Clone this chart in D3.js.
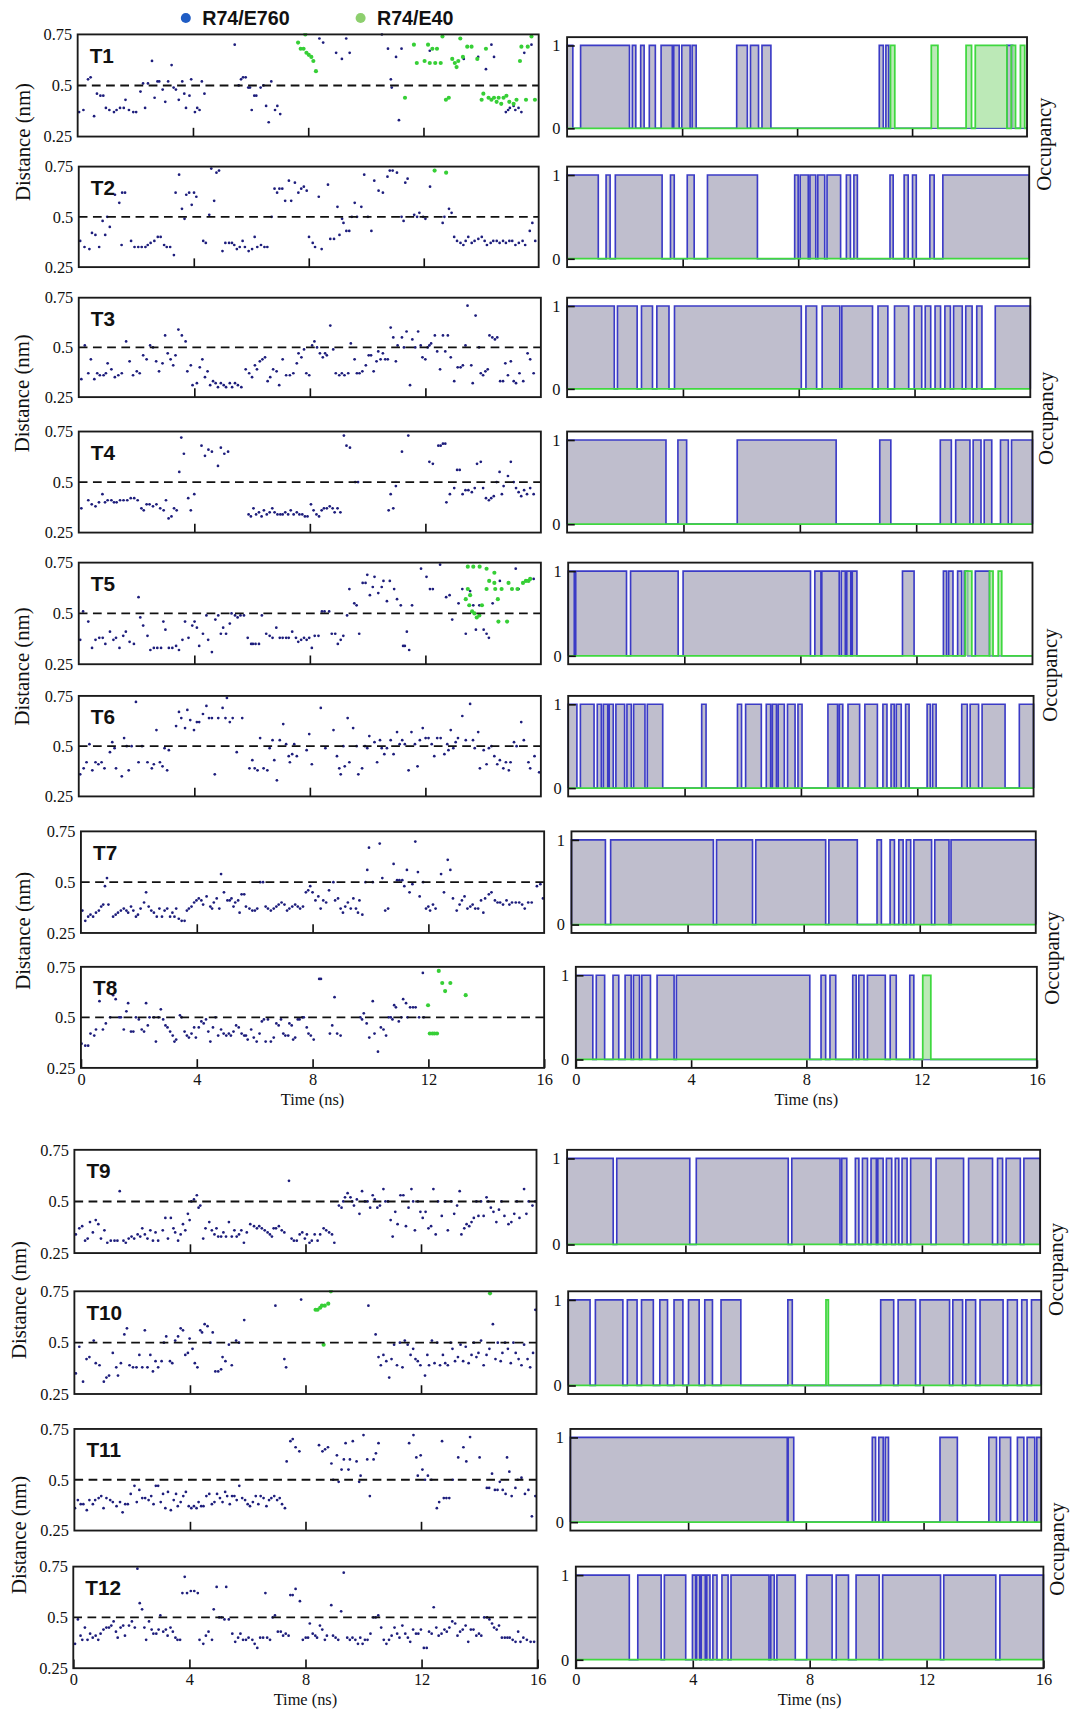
<!DOCTYPE html>
<html>
<head>
<meta charset="utf-8">
<script src="https://cdn.jsdelivr.net/npm/d3@7"></script>
<style>
  body { margin: 0; background: #fff; }
  text { fill: #111; }
</style>
</head>
<body>
<svg id="chart"></svg>
<script>
// ---- axes / labels ----
var timeTicks = [0, 4, 8, 12, 16];
var distTicks = [0.25, 0.5, 0.75];
var occTicks = [0, 1];
var cutoff = 0.5;
var trajNames = ['T1','T2','T3','T4','T5','T6','T7','T8','T9','T10','T11','T12'];
var seriesNames = ['R74/E760', 'R74/E40'];

// ---- distance samples [time ns, distance nm] ----
var T1_E760 = [[.05,.37],[.2,.38],[.36,.53],[.45,.54],[.57,.35],[.67,.46],[.79,.45],[.89,.45],[.98,.39],[1.1,.38],[1.26,.37],[1.35,.38],[1.47,.39],[1.6,.39],[1.66,.43],[1.78,.38],[1.93,.37],[2.03,.37],[2.18,.47],[2.27,.51],[2.34,.39],[2.44,.51],[2.58,.62],[2.67,.44],[2.77,.52],[2.83,.52],[2.95,.48],[3.04,.42],[3.14,.52],[3.26,.6],[3.33,.49],[3.41,.48],[3.51,.43],[3.63,.52],[3.7,.46],[3.76,.39],[3.88,.45],[3.94,.53],[4.07,.37],[4.15,.39],[4.23,.38],[4.31,.52],[4.4,.46],[5.45,.7],[5.59,.5],[5.67,.53],[5.74,.54],[5.83,.54],[5.92,.49],[5.98,.49],[6.04,.38],[6.13,.45],[6.2,.45],[6.35,.49],[6.45,.5],[6.54,.4],[6.63,.32],[6.72,.52],[6.85,.38],[6.93,.4],[7.03,.36],[8.39,.73],[8.52,.71],[8.97,.66],[9.17,.63],[9.32,.73],[9.44,.66],[10.56,.75],[10.77,.68],[10.87,.53],[10.9,.49],[11.05,.64],[11.15,.33],[11.24,.68],[12.22,.67],[13.4,.63],[13.9,.64],[14.17,.58],[14.36,.7],[14.45,.64],[14.86,.37],[14.94,.38],[15.0,.39],[15.13,.4],[15.19,.38],[15.3,.39],[15.4,.37],[15.5,.66],[15.75,.7]];
var T1_E40 = [[7.65,.71],[7.74,.68],[7.84,.68],[7.9,.75],[7.94,.66],[8.02,.65],[8.11,.64],[8.18,.62],[8.27,.57],[11.36,.44],[11.67,.7],[11.77,.61],[12.04,.62],[12.16,.7],[12.22,.61],[12.31,.68],[12.41,.61],[12.47,.68],[12.6,.61],[12.66,.74],[12.78,.43],[12.88,.44],[13.0,.63],[13.09,.61],[13.15,.59],[13.21,.62],[13.28,.73],[13.37,.64],[13.52,.69],[13.67,.69],[13.87,.63],[14.02,.43],[14.08,.46],[14.17,.68],[14.26,.44],[14.36,.43],[14.45,.44],[14.54,.42],[14.61,.44],[14.7,.41],[14.78,.44],[14.88,.45],[14.98,.42],[15.13,.41],[15.23,.43],[15.35,.62],[15.4,.69],[15.56,.43],[15.62,.69],[15.75,.74],[15.87,.43]];

var T2_E760 = [[.05,.38],[.2,.35],[.37,.34],[.46,.42],[.58,.41],[.71,.35],[.83,.48],[.92,.41],[.99,.5],[1.08,.45],[1.26,.61],[1.41,.57],[1.49,.36],[1.51,.62],[1.61,.62],[1.82,.38],[1.94,.35],[2.07,.35],[2.19,.35],[2.32,.35],[2.4,.36],[2.5,.37],[2.63,.38],[2.75,.4],[2.85,.4],[2.97,.36],[3.06,.35],[3.18,.35],[3.31,.31],[3.37,.62],[3.49,.71],[3.59,.54],[3.68,.49],[3.74,.61],[3.84,.62],[3.93,.56],[4.01,.62],[4.09,.6],[4.33,.38],[4.42,.37],[4.54,.51],[4.61,.74],[4.71,.58],[4.79,.72],[4.88,.73],[5.0,.33],[5.1,.37],[5.23,.37],[5.33,.37],[5.41,.36],[5.5,.34],[5.6,.35],[5.7,.38],[5.78,.35],[5.91,.33],[6.03,.34],[6.12,.4],[6.21,.35],[6.34,.36],[6.46,.35],[6.56,.35],[6.71,.5],[6.81,.64],[6.9,.62],[6.98,.64],[7.08,.64],[7.18,.58],[7.31,.68],[7.39,.58],[7.52,.67],[7.64,.62],[7.74,.64],[7.83,.65],[7.93,.63],[8.01,.4],[8.14,.37],[8.22,.35],[8.35,.6],[8.45,.34],[8.67,.66],[8.75,.39],[8.88,.39],[9.0,.55],[9.07,.41],[9.16,.49],[9.21,.47],[9.31,.43],[9.41,.43],[9.5,.5],[9.6,.57],[9.68,.5],[9.83,.55],[9.93,.71],[10.06,.5],[10.18,.43],[10.28,.68],[10.43,.63],[10.58,.62],[10.74,.7],[10.82,.73],[10.92,.73],[11.07,.72],[11.23,.5],[11.3,.48],[11.36,.67],[11.44,.69],[11.67,.51],[11.77,.5],[11.85,.52],[11.98,.5],[12.06,.49],[12.22,.65],[12.66,.47],[12.72,.5],[12.88,.54],[12.97,.52],[13.06,.4],[13.16,.38],[13.28,.37],[13.38,.36],[13.46,.38],[13.55,.4],[13.67,.37],[13.77,.38],[13.9,.39],[14.02,.4],[14.12,.38],[14.2,.36],[14.33,.37],[14.42,.38],[14.54,.38],[14.64,.37],[14.76,.38],[14.86,.37],[14.98,.38],[15.08,.38],[15.19,.36],[15.31,.37],[15.44,.38],[15.53,.36],[15.69,.43],[15.78,.47],[15.88,.38]];
var T2_E40 = [[12.38,.73],[12.78,.72]];

var T3_E760 = [[.09,.34],[.21,.51],[.33,.37],[.42,.44],[.54,.34],[.64,.37],[.73,.36],[.86,.36],[.94,.37],[1.0,.42],[1.13,.39],[1.25,.35],[1.37,.36],[1.49,.37],[1.64,.53],[1.76,.43],[1.88,.36],[2.01,.38],[2.11,.37],[2.23,.46],[2.35,.44],[2.47,.51],[2.57,.5],[2.68,.43],[2.78,.38],[2.9,.42],[2.99,.56],[3.08,.47],[3.18,.44],[3.27,.41],[3.35,.46],[3.45,.59],[3.57,.56],[3.7,.53],[3.76,.38],[3.88,.41],[3.94,.31],[4.09,.32],[4.19,.4],[4.28,.44],[4.37,.35],[4.46,.38],[4.55,.31],[4.65,.33],[4.74,.32],[4.82,.3],[4.92,.32],[5.02,.31],[5.1,.3],[5.23,.32],[5.31,.3],[5.41,.32],[5.51,.31],[5.63,.3],[5.78,.39],[5.9,.37],[6.0,.35],[6.1,.41],[6.17,.39],[6.27,.43],[6.36,.44],[6.45,.45],[6.54,.33],[6.63,.35],[6.73,.39],[6.85,.38],[6.94,.31],[7.06,.44],[7.18,.36],[7.31,.36],[7.43,.37],[7.55,.42],[7.61,.47],[7.71,.45],[7.8,.49],[7.88,.37],[7.98,.36],[8.08,.51],[8.16,.53],[8.25,.5],[8.35,.47],[8.45,.45],[8.53,.47],[8.59,.46],[8.71,.61],[8.81,.49],[8.9,.37],[9.02,.36],[9.11,.37],[9.2,.36],[9.33,.37],[9.42,.52],[9.55,.44],[9.63,.37],[9.72,.37],[9.82,.38],[9.94,.41],[10.04,.46],[10.12,.46],[10.21,.38],[10.31,.43],[10.37,.48],[10.45,.44],[10.53,.47],[10.61,.44],[10.7,.44],[10.8,.6],[10.89,.55],[10.98,.43],[11.04,.51],[11.19,.55],[11.26,.5],[11.35,.58],[11.47,.31],[11.55,.54],[11.65,.5],[11.75,.58],[11.84,.51],[11.9,.45],[12.0,.44],[12.08,.5],[12.14,.51],[12.2,.52],[12.33,.56],[12.41,.48],[12.51,.39],[12.61,.56],[12.69,.48],[12.78,.56],[12.88,.45],[13.0,.33],[13.12,.4],[13.22,.4],[13.3,.41],[13.39,.51],[13.46,.71],[13.59,.41],[13.64,.32],[13.74,.66],[13.86,.5],[13.92,.37],[14.0,.36],[14.08,.38],[14.16,.39],[14.22,.56],[14.32,.55],[14.41,.54],[14.49,.55],[14.59,.33],[14.69,.33],[14.77,.42],[14.86,.36],[14.96,.43],[15.06,.33],[15.14,.32],[15.26,.37],[15.39,.33],[15.54,.47],[15.63,.44],[15.75,.37]];
var T3_E40 = [];

var T4_E760 = [[.09,.37],[.33,.41],[.45,.39],[.58,.38],[.7,.4],[.82,.44],[.91,.4],[1.0,.41],[1.13,.41],[1.22,.4],[1.31,.4],[1.43,.41],[1.55,.41],[1.68,.41],[1.8,.42],[1.92,.42],[2.04,.41],[2.17,.37],[2.25,.36],[2.35,.39],[2.45,.39],[2.57,.38],[2.69,.39],[2.82,.37],[2.94,.36],[3.02,.41],[3.11,.32],[3.21,.33],[3.3,.37],[3.39,.36],[3.48,.55],[3.55,.72],[3.64,.64],[3.79,.42],[3.88,.36],[4.0,.44],[4.25,.68],[4.37,.63],[4.49,.66],[4.61,.65],[4.82,.58],[4.92,.67],[5.04,.64],[5.17,.65],[5.88,.34],[5.96,.33],[6.05,.37],[6.14,.34],[6.24,.35],[6.33,.33],[6.41,.36],[6.51,.34],[6.61,.35],[6.7,.37],[6.78,.35],[6.88,.34],[6.98,.34],[7.06,.34],[7.15,.35],[7.25,.34],[7.34,.36],[7.44,.34],[7.55,.35],[7.64,.34],[7.74,.34],[7.83,.33],[7.92,.33],[8.04,.39],[8.13,.36],[8.23,.34],[8.32,.33],[8.41,.36],[8.49,.37],[8.59,.37],[8.69,.38],[8.79,.37],[8.86,.35],[8.96,.37],[9.06,.35],[9.18,.73],[9.27,.68],[9.39,.67],[9.57,.5],[9.67,.5],[10.73,.36],[10.8,.44],[10.89,.37],[10.98,.48],[11.19,.65],[11.41,.73],[12.14,.6],[12.26,.59],[12.45,.68],[12.53,.68],[12.61,.69],[12.69,.69],[12.73,.4],[12.85,.44],[13.0,.47],[13.1,.56],[13.19,.56],[13.29,.44],[13.39,.46],[13.49,.46],[13.61,.45],[13.71,.47],[13.79,.59],[13.92,.6],[14.0,.47],[14.1,.42],[14.2,.41],[14.28,.42],[14.37,.43],[14.47,.5],[14.57,.55],[14.65,.44],[14.71,.48],[14.86,.53],[14.96,.6],[15.06,.5],[15.14,.47],[15.23,.45],[15.32,.43],[15.42,.46],[15.52,.44],[15.63,.47],[15.75,.44]];
var T4_E40 = [];

var T5_E760 = [[.05,.37],[.15,.51],[.33,.46],[.46,.33],[.58,.37],[.71,.38],[.83,.38],[.92,.35],[1.08,.41],[1.2,.37],[1.29,.38],[1.41,.33],[1.54,.39],[1.63,.41],[1.76,.36],[1.91,.35],[2.07,.58],[2.13,.48],[2.23,.44],[2.38,.39],[2.48,.32],[2.6,.33],[2.72,.33],[2.85,.33],[2.93,.46],[3.0,.42],[3.12,.33],[3.24,.33],[3.37,.34],[3.47,.32],[3.59,.37],[3.68,.46],[3.8,.38],[3.93,.44],[4.01,.46],[4.09,.43],[4.17,.34],[4.3,.4],[4.42,.49],[4.48,.37],[4.61,.31],[4.73,.47],[4.83,.49],[4.92,.4],[5.0,.43],[5.1,.4],[5.23,.45],[5.29,.5],[5.41,.49],[5.5,.48],[5.6,.49],[5.72,.49],[5.85,.38],[5.97,.35],[6.03,.35],[6.12,.35],[6.24,.35],[6.34,.49],[6.49,.4],[6.61,.39],[6.71,.38],[6.84,.43],[6.96,.38],[7.06,.38],[7.18,.38],[7.27,.38],[7.39,.41],[7.52,.38],[7.6,.36],[7.7,.37],[7.8,.38],[7.89,.37],[7.98,.38],[8.07,.33],[8.17,.39],[8.3,.39],[8.42,.51],[8.51,.51],[8.67,.51],[8.76,.4],[8.88,.4],[8.97,.35],[9.07,.37],[9.16,.39],[9.29,.49],[9.37,.62],[9.54,.55],[9.62,.54],[9.71,.4],[9.83,.65],[9.93,.65],[9.99,.69],[10.08,.59],[10.18,.63],[10.24,.68],[10.37,.6],[10.49,.63],[10.55,.66],[10.67,.56],[10.77,.66],[10.92,.62],[11.02,.57],[11.15,.54],[11.23,.34],[11.29,.34],[11.36,.41],[11.44,.32],[11.54,.54],[11.85,.72],[12.04,.68],[12.16,.62],[12.26,.62],[12.51,.74],[12.72,.58],[12.84,.59],[12.93,.47],[13.15,.55],[13.28,.62],[13.4,.4],[13.55,.61],[13.66,.54],[13.75,.42],[13.87,.54],[14.02,.42],[14.12,.4],[14.2,.38],[14.33,.55],[14.58,.66],[15.13,.72],[15.23,.62],[15.75,.67]];
var T5_E40 = [[13.47,.73],[13.66,.73],[13.88,.73],[14.12,.72],[14.39,.7],[13.47,.62],[13.55,.59],[13.4,.57],[13.52,.54],[13.62,.51],[13.7,.5],[13.78,.48],[13.87,.49],[13.96,.54],[14.12,.62],[14.21,.66],[14.39,.65],[14.42,.62],[14.51,.57],[14.53,.46],[14.64,.62],[14.83,.46],[14.88,.65],[15.0,.62],[15.19,.62],[15.38,.65],[15.48,.66],[15.57,.66],[15.63,.67]];

var T6_E760 = [[.05,.36],[.17,.39],[.27,.42],[.37,.51],[.47,.38],[.58,.42],[.68,.41],[.79,.42],[.89,.39],[1.08,.47],[1.16,.52],[1.24,.49],[1.29,.39],[1.49,.35],[1.57,.54],[1.66,.5],[1.73,.38],[1.83,.5],[1.98,.72],[2.07,.42],[2.19,.5],[2.38,.42],[2.53,.39],[2.6,.41],[2.69,.58],[2.81,.42],[2.9,.4],[2.97,.49],[3.06,.38],[3.12,.48],[3.37,.6],[3.47,.67],[3.55,.64],[3.68,.59],[3.76,.68],[3.86,.63],[3.99,.58],[4.09,.62],[4.17,.62],[4.3,.66],[4.42,.7],[4.51,.64],[4.61,.64],[4.71,.36],[4.83,.64],[4.98,.69],[5.08,.64],[5.13,.74],[5.23,.62],[5.33,.64],[5.47,.47],[5.66,.64],[5.91,.39],[6.01,.43],[6.09,.39],[6.19,.38],[6.28,.54],[6.4,.39],[6.53,.38],[6.61,.49],[6.71,.53],[6.77,.43],[6.86,.33],[6.96,.53],[7.08,.61],[7.18,.51],[7.27,.45],[7.31,.42],[7.39,.46],[7.46,.51],[7.55,.45],[7.89,.48],[7.98,.56],[8.07,.41],[8.38,.69],[8.54,.49],[8.82,.58],[8.94,.45],[9.02,.39],[9.07,.36],[9.16,.5],[9.21,.4],[9.31,.64],[9.37,.42],[9.5,.59],[9.62,.5],[9.68,.36],[9.81,.39],[9.91,.5],[9.99,.49],[10.06,.55],[10.24,.52],[10.33,.42],[10.43,.53],[10.49,.49],[10.58,.46],[10.67,.49],[10.8,.53],[10.9,.46],[11.02,.57],[11.11,.51],[11.2,.53],[11.29,.51],[11.42,.38],[11.52,.57],[11.64,.51],[11.73,.4],[11.81,.53],[11.91,.59],[12.01,.54],[12.11,.54],[12.22,.51],[12.31,.45],[12.41,.54],[12.53,.54],[12.66,.46],[12.76,.51],[12.8,.48],[12.88,.58],[12.97,.49],[13.05,.52],[13.13,.54],[13.28,.65],[13.4,.53],[13.55,.71],[13.65,.53],[13.71,.49],[13.83,.57],[13.89,.39],[14.02,.48],[14.12,.41],[14.2,.49],[14.29,.5],[14.39,.45],[14.49,.41],[14.58,.43],[14.7,.39],[14.79,.42],[14.89,.38],[14.95,.42],[15.07,.52],[15.16,.5],[15.32,.62],[15.41,.53],[15.57,.42],[15.63,.39],[15.78,.45],[15.94,.37]];
var T6_E40 = [];

var T7_E760 = [[.05,.36],[.15,.31],[.25,.33],[.33,.34],[.42,.33],[.52,.35],[.62,.36],[.7,.38],[.77,.39],[.83,.48],[.9,.52],[.95,.39],[1.11,.33],[1.2,.34],[1.28,.35],[1.38,.36],[1.48,.37],[1.57,.36],[1.63,.35],[1.73,.38],[1.81,.36],[1.9,.33],[1.97,.34],[2.06,.37],[2.18,.4],[2.25,.45],[2.34,.38],[2.43,.36],[2.52,.35],[2.62,.33],[2.71,.37],[2.8,.33],[2.89,.36],[2.98,.37],[3.08,.33],[3.16,.35],[3.23,.33],[3.29,.37],[3.38,.32],[3.48,.31],[3.58,.31],[3.66,.36],[3.73,.37],[3.82,.38],[3.91,.4],[3.99,.41],[4.07,.42],[4.16,.41],[4.22,.39],[4.34,.43],[4.47,.38],[4.53,.37],[4.59,.4],[4.69,.42],[4.78,.37],[4.84,.54],[4.94,.45],[5.06,.41],[5.14,.41],[5.2,.42],[5.27,.38],[5.33,.4],[5.43,.41],[5.48,.35],[5.55,.44],[5.64,.44],[5.7,.38],[5.82,.37],[5.92,.36],[6.01,.36],[6.09,.37],[6.19,.5],[6.29,.5],[6.38,.38],[6.46,.37],[6.56,.36],[6.66,.37],[6.75,.38],[6.83,.39],[6.93,.4],[7.03,.39],[7.12,.36],[7.2,.37],[7.3,.38],[7.4,.39],[7.49,.38],[7.57,.37],[7.67,.38],[7.77,.45],[7.85,.46],[7.92,.48],[8.0,.45],[8.1,.41],[8.2,.43],[8.28,.37],[8.37,.41],[8.47,.4],[8.57,.46],[8.72,.5],[8.78,.41],[8.88,.42],[8.97,.37],[9.05,.35],[9.13,.38],[9.22,.4],[9.32,.37],[9.41,.42],[9.5,.37],[9.57,.35],[9.62,.41],[9.72,.34],[9.83,.5],[9.89,.56],[9.95,.67],[10.08,.5],[10.32,.69],[10.41,.52],[10.51,.36],[10.61,.37],[10.8,.59],[10.92,.51],[11.0,.51],[11.1,.51],[11.17,.48],[11.26,.56],[11.35,.45],[11.45,.49],[11.55,.7],[11.64,.55],[11.7,.43],[11.82,.5],[11.92,.37],[12.0,.38],[12.06,.36],[12.16,.39],[12.25,.37],[12.44,.54],[12.54,.45],[12.67,.61],[12.76,.56],[12.85,.42],[12.98,.36],[13.08,.39],[13.16,.41],[13.25,.43],[13.35,.37],[13.45,.38],[13.53,.39],[13.62,.37],[13.72,.37],[13.82,.41],[13.9,.35],[13.96,.42],[14.09,.44],[14.18,.45],[14.3,.41],[14.39,.4],[14.48,.4],[14.58,.39],[14.7,.41],[14.8,.39],[14.89,.4],[15.02,.4],[15.14,.4],[15.24,.39],[15.33,.37],[15.45,.4],[15.57,.4],[15.75,.48],[15.87,.49],[15.96,.42]];
var T7_E40 = [];

var T8_E760 = [[.02,.37],[.15,.36],[.25,.36],[.33,.42],[.46,.41],[.52,.44],[.64,.58],[.76,.44],[.86,.47],[1.01,.5],[1.11,.61],[1.2,.59],[1.32,.5],[1.38,.5],[1.48,.44],[1.57,.53],[1.63,.57],[1.73,.43],[1.81,.43],[1.9,.5],[2.0,.49],[2.1,.44],[2.18,.43],[2.25,.57],[2.31,.46],[2.37,.5],[2.52,.5],[2.59,.38],[2.68,.5],[2.76,.54],[2.84,.49],[2.92,.46],[2.99,.45],[3.08,.43],[3.17,.41],[3.23,.38],[3.29,.39],[3.42,.51],[3.48,.5],[3.58,.43],[3.66,.41],[3.73,.4],[3.82,.42],[3.91,.45],[3.97,.4],[4.07,.45],[4.16,.48],[4.24,.47],[4.32,.49],[4.4,.43],[4.47,.38],[4.56,.45],[4.65,.5],[4.74,.41],[4.84,.44],[4.93,.42],[5.02,.41],[5.11,.42],[5.18,.41],[5.27,.43],[5.36,.46],[5.45,.45],[5.55,.42],[5.64,.41],[5.7,.41],[5.76,.39],[5.88,.44],[5.97,.4],[6.07,.38],[6.17,.42],[6.25,.48],[6.32,.49],[6.38,.38],[6.46,.49],[6.56,.38],[6.66,.4],[6.75,.47],[6.83,.46],[6.91,.49],[6.99,.42],[7.06,.41],[7.16,.41],[7.2,.47],[7.28,.46],[7.33,.39],[7.4,.4],[7.49,.49],[7.55,.49],[7.65,.5],[7.7,.5],[7.8,.45],[7.86,.42],[7.94,.41],[8.04,.39],[8.23,.69],[8.29,.69],[8.6,.42],[8.68,.46],[8.76,.6],[8.85,.42],[8.97,.41],[9.65,.5],[9.71,.49],[9.77,.52],[9.87,.47],[9.96,.4],[10.08,.58],[10.14,.42],[10.26,.33],[10.36,.45],[10.45,.44],[10.54,.41],[10.63,.5],[10.7,.5],[10.76,.49],[10.82,.56],[10.88,.55],[10.98,.48],[11.07,.5],[11.13,.59],[11.23,.57],[11.28,.5],[11.37,.55],[11.47,.55],[11.56,.55],[11.68,.5],[11.81,.72],[11.84,.5]];
var T8_E40 = [[11.99,.56],[12.05,.42],[12.14,.42],[12.21,.42],[12.3,.42],[12.36,.73],[12.48,.67],[12.58,.63],[12.76,.67],[13.29,.61]];

var T9_E760 = [[.05,.34],[.17,.37],[.27,.38],[.37,.31],[.46,.32],[.54,.4],[.64,.35],[.74,.41],[.83,.39],[.92,.32],[1.04,.36],[1.14,.3],[1.26,.31],[1.39,.31],[1.49,.31],[1.57,.55],[1.7,.31],[1.78,.3],[1.88,.32],[1.98,.33],[2.07,.32],[2.19,.34],[2.28,.33],[2.35,.37],[2.44,.34],[2.53,.32],[2.63,.36],[2.72,.31],[2.81,.35],[2.9,.31],[3.06,.36],[3.15,.42],[3.24,.32],[3.34,.42],[3.43,.37],[3.49,.35],[3.59,.31],[3.68,.34],[3.76,.39],[3.84,.36],[3.93,.44],[3.99,.41],[4.05,.5],[4.14,.51],[4.24,.53],[4.3,.47],[4.36,.48],[4.46,.32],[4.54,.37],[4.67,.4],[4.76,.36],[4.85,.34],[4.92,.37],[4.98,.33],[5.08,.33],[5.16,.35],[5.25,.33],[5.35,.4],[5.45,.33],[5.54,.36],[5.62,.33],[5.7,.34],[5.78,.36],[5.87,.3],[5.97,.35],[6.09,.39],[6.22,.38],[6.32,.37],[6.4,.38],[6.49,.37],[6.59,.36],[6.69,.35],[6.77,.34],[6.84,.33],[6.9,.37],[6.98,.37],[7.08,.38],[7.18,.36],[7.27,.35],[7.43,.6],[7.52,.32],[7.6,.31],[7.7,.31],[7.8,.34],[7.89,.35],[7.98,.32],[8.05,.34],[8.14,.3],[8.22,.31],[8.32,.34],[8.42,.31],[8.51,.34],[8.63,.37],[8.72,.36],[8.82,.35],[8.92,.34],[9.0,.3],[9.16,.48],[9.25,.47],[9.31,.5],[9.37,.52],[9.46,.54],[9.56,.52],[9.62,.5],[9.68,.48],[9.78,.51],[9.87,.44],[9.96,.55],[10.06,.5],[10.15,.5],[10.24,.47],[10.33,.53],[10.4,.51],[10.49,.47],[10.58,.48],[10.7,.56],[10.77,.5],[10.86,.5],[10.95,.41],[11.02,.33],[11.11,.45],[11.19,.39],[11.29,.53],[11.39,.53],[11.48,.38],[11.57,.47],[11.67,.56],[11.73,.5],[11.79,.36],[11.89,.5],[11.98,.45],[12.06,.42],[12.16,.45],[12.26,.37],[12.35,.38],[12.43,.56],[12.51,.34],[12.59,.5],[12.72,.43],[12.84,.5],[12.93,.36],[13.05,.5],[13.15,.44],[13.25,.48],[13.34,.55],[13.4,.34],[13.5,.37],[13.58,.39],[13.67,.38],[13.75,.4],[13.83,.42],[13.92,.5],[13.99,.43],[14.08,.5],[14.17,.43],[14.27,.52],[14.33,.5],[14.42,.47],[14.51,.45],[14.61,.4],[14.7,.46],[14.79,.5],[14.89,.43],[15.03,.39],[15.13,.4],[15.23,.44],[15.32,.5],[15.41,.42],[15.57,.56],[15.65,.44],[15.73,.5],[15.86,.48],[15.96,.5]];
var T9_E40 = [];

var T10_E760 = [[.05,.35],[.17,.48],[.3,.31],[.42,.42],[.52,.43],[.67,.51],[.74,.4],[.87,.39],[1.02,.31],[1.11,.33],[1.2,.34],[1.33,.45],[1.45,.38],[1.51,.34],[1.61,.4],[1.73,.54],[1.82,.57],[1.91,.39],[2.03,.38],[2.15,.38],[2.25,.44],[2.35,.38],[2.44,.56],[2.53,.38],[2.63,.44],[2.72,.36],[2.81,.41],[2.9,.38],[3.02,.41],[3.1,.5],[3.18,.53],[3.31,.41],[3.39,.4],[3.49,.51],[3.59,.53],[3.68,.57],[3.76,.56],[3.84,.44],[3.93,.45],[3.99,.52],[4.09,.47],[4.17,.4],[4.26,.38],[4.36,.56],[4.42,.55],[4.51,.59],[4.61,.58],[4.71,.5],[4.79,.55],[4.88,.36],[4.98,.36],[5.08,.37],[5.13,.43],[5.23,.41],[5.35,.49],[5.45,.39],[5.6,.51],[5.7,.5],[5.88,.61],[6.96,.68],[7.27,.42],[7.33,.38],[7.85,.71],[10.18,.68],[10.43,.54],[10.53,.43],[10.61,.39],[10.7,.44],[10.8,.41],[10.9,.33],[10.98,.42],[11.07,.49],[11.17,.39],[11.27,.5],[11.36,.38],[11.44,.51],[11.54,.49],[11.64,.44],[11.73,.47],[11.81,.42],[11.89,.41],[11.98,.39],[12.14,.34],[12.22,.44],[12.28,.39],[12.38,.51],[12.47,.4],[12.56,.5],[12.66,.39],[12.76,.44],[12.84,.4],[12.93,.39],[13.03,.5],[13.09,.47],[13.18,.41],[13.28,.43],[13.37,.49],[13.46,.41],[13.55,.48],[13.65,.4],[13.75,.44],[13.83,.5],[13.92,.43],[13.99,.45],[14.08,.51],[14.17,.39],[14.27,.44],[14.37,.47],[14.49,.59],[14.58,.42],[14.66,.5],[14.76,.41],[14.82,.45],[14.91,.5],[15.01,.47],[15.11,.4],[15.2,.5],[15.28,.45],[15.38,.42],[15.48,.39],[15.57,.49],[15.69,.42],[15.78,.38],[15.88,.45],[15.96,.66]];
var T10_E40 = [[8.35,.66],[8.42,.66],[8.51,.67],[8.57,.68],[8.67,.68],[8.79,.69],[8.88,.75],[8.63,.49],[14.39,.74]];

var T11_E760 = [[.02,.36],[.12,.4],[.22,.38],[.31,.38],[.43,.35],[.52,.4],[.64,.38],[.72,.4],[.84,.41],[.93,.42],[1.01,.36],[1.11,.41],[1.24,.4],[1.33,.39],[1.46,.37],[1.58,.39],[1.67,.34],[1.76,.38],[1.85,.38],[1.95,.43],[2.08,.47],[2.16,.39],[2.25,.45],[2.35,.41],[2.45,.41],[2.57,.4],[2.66,.42],[2.74,.38],[2.82,.47],[2.9,.47],[2.99,.39],[3.07,.43],[3.15,.36],[3.24,.44],[3.34,.35],[3.44,.4],[3.52,.43],[3.58,.37],[3.68,.39],[3.77,.42],[3.86,.44],[3.96,.37],[4.05,.36],[4.14,.37],[4.23,.36],[4.3,.39],[4.39,.37],[4.47,.37],[4.57,.42],[4.67,.43],[4.76,.38],[4.85,.39],[4.94,.43],[5.04,.41],[5.13,.39],[5.22,.44],[5.29,.42],[5.38,.38],[5.46,.42],[5.54,.42],[5.62,.4],[5.71,.47],[5.81,.41],[5.91,.4],[6.0,.38],[6.08,.37],[6.18,.39],[6.28,.42],[6.37,.38],[6.45,.42],[6.55,.41],[6.65,.37],[6.74,.4],[6.82,.41],[6.92,.42],[7.02,.4],[7.11,.41],[7.19,.38],[7.29,.36],[7.35,.59],[7.48,.69],[7.56,.7],[7.66,.66],[7.79,.64],[8.47,.67],[8.59,.64],[8.68,.65],[8.78,.66],[8.9,.58],[8.96,.5],[9.09,.62],[9.15,.49],[9.25,.55],[9.33,.6],[9.39,.68],[9.49,.55],[9.54,.6],[9.64,.69],[9.77,.59],[9.86,.49],[9.91,.52],[10.01,.72],[10.14,.6],[10.23,.42],[10.36,.6],[10.44,.63],[10.53,.68],[11.59,.68],[11.74,.72],[11.84,.61],[11.89,.52],[11.99,.62],[12.05,.55],[12.14,.5],[12.24,.52],[12.36,.5],[12.55,.36],[12.63,.39],[12.73,.69],[12.79,.41],[12.88,.41],[12.98,.41],[13.1,.5],[13.29,.61],[13.47,.66],[13.57,.59],[13.7,.71],[14.03,.61],[14.28,.46],[14.36,.46],[14.46,.53],[14.56,.45],[14.65,.45],[14.73,.49],[14.83,.45],[14.93,.43],[14.98,.61],[15.06,.54],[15.14,.42],[15.27,.46],[15.35,.5],[15.48,.51],[15.6,.43],[15.72,.45],[15.84,.32],[15.96,.42]];
var T11_E40 = [];

var T12_E760 = [[.06,.37],[.16,.49],[.25,.41],[.31,.39],[.4,.45],[.49,.39],[.58,.42],[.67,.4],[.77,.41],[.86,.39],[.94,.42],[1.04,.44],[1.14,.45],[1.23,.45],[1.31,.46],[1.39,.48],[1.47,.43],[1.53,.4],[1.63,.45],[1.72,.46],[1.78,.41],[1.92,.46],[2.02,.48],[2.12,.45],[2.21,.74],[2.29,.57],[2.37,.54],[2.45,.45],[2.51,.39],[2.61,.48],[2.7,.44],[2.76,.42],[2.86,.42],[2.94,.44],[3.0,.51],[3.1,.43],[3.19,.44],[3.25,.41],[3.35,.45],[3.43,.43],[3.52,.4],[3.59,.39],[3.68,.39],[3.76,.62],[3.84,.7],[3.92,.62],[4.05,.63],[4.17,.63],[4.29,.62],[4.35,.39],[4.48,.37],[4.57,.41],[4.66,.43],[4.78,.39],[4.84,.54],[4.94,.65],[5.03,.5],[5.11,.5],[5.21,.49],[5.27,.65],[5.36,.49],[5.48,.42],[5.58,.38],[5.68,.4],[5.76,.42],[5.85,.39],[5.95,.39],[6.04,.4],[6.17,.39],[6.25,.37],[6.34,.35],[6.44,.4],[6.54,.4],[6.62,.62],[6.68,.4],[6.78,.39],[6.87,.5],[6.95,.51],[7.05,.43],[7.15,.43],[7.23,.41],[7.32,.42],[7.42,.41],[7.48,.61],[7.56,.61],[7.66,.64],[7.81,.58],[7.91,.39],[8.01,.4],[8.09,.4],[8.15,.47],[8.25,.42],[8.34,.41],[8.4,.4],[8.5,.46],[8.58,.44],[8.67,.39],[8.74,.41],[8.89,.56],[8.95,.41],[9.04,.4],[9.13,.39],[9.23,.53],[9.32,.72],[9.44,.4],[9.53,.39],[9.62,.4],[9.72,.39],[9.81,.37],[9.89,.4],[9.97,.37],[10.05,.39],[10.14,.39],[10.24,.42],[10.34,.5],[10.42,.5],[10.51,.51],[10.61,.45],[10.7,.39],[10.79,.37],[10.88,.39],[10.97,.41],[11.07,.45],[11.16,.42],[11.24,.4],[11.34,.46],[11.44,.42],[11.53,.4],[11.61,.38],[11.71,.44],[11.81,.42],[11.89,.42],[11.98,.44],[12.08,.35],[12.18,.35],[12.26,.43],[12.35,.42],[12.42,.55],[12.51,.45],[12.59,.41],[12.69,.42],[12.79,.44],[12.87,.43],[12.96,.45],[13.06,.48],[13.16,.47],[13.24,.41],[13.33,.43],[13.42,.44],[13.52,.46],[13.61,.38],[13.7,.44],[13.79,.44],[13.89,.41],[13.98,.42],[14.06,.41],[14.16,.5],[14.26,.5],[14.34,.49],[14.43,.47],[14.5,.45],[14.59,.44],[14.67,.46],[14.77,.4],[14.87,.4],[14.96,.4],[15.04,.4],[15.14,.39],[15.24,.38],[15.33,.43],[15.41,.38],[15.51,.4],[15.63,.39],[15.76,.38],[15.88,.38]];
var T12_E40 = [];

// ---- occupancy: intervals [start ns, end ns] where the contact is formed ----
var T1_occE760 = [[0,.2],[.47,2.17],[2.27,2.39],[2.56,2.68],[2.86,3.07],[3.27,3.66],[3.71,3.9],[3.99,4.28],[4.35,4.49],[5.9,6.27],[6.38,6.66],[6.78,7.09],[10.86,11.0],[11.09,11.19],[15.3,15.5]];
var T1_occE40 = [[11.25,11.4],[12.67,12.9],[13.88,14.07],[14.2,15.3],[15.45,15.6],[15.77,15.92]];
var T2_occE760 = [[0,1.08],[1.35,1.49],[1.67,3.29],[3.58,3.71],[4.16,4.4],[4.86,6.59],[7.88,8.0],[8.07,8.35],[8.41,8.61],[8.68,8.92],[9.0,9.47],[9.67,9.81],[9.93,10.05],[11.18,11.29],[11.67,11.81],[11.96,12.09],[12.56,12.71],[13.01,16]];
var T2_occE40 = [];
var T3_occE760 = [[0,1.63],[1.74,2.42],[2.57,2.95],[3.1,3.52],[3.71,8.09],[8.25,8.62],[8.81,9.42],[9.49,10.55],[10.74,11.08],[11.31,11.8],[11.99,12.25],[12.37,12.56],[12.71,12.9],[13.05,13.24],[13.35,13.65],[13.77,13.99],[14.15,14.33],[14.79,16]];
var T3_occE40 = [];
var T4_occE760 = [[0,3.4],[3.81,4.11],[5.85,9.25],[10.75,11.13],[12.83,13.21],[13.36,13.85],[13.96,14.23],[14.34,14.6],[14.9,15.17],[15.28,16]];
var T4_occE40 = [];
var T5_occE760 = [[0,.21],[.26,2.01],[2.15,3.79],[3.96,8.35],[8.5,8.71],[8.74,9.34],[9.41,9.55],[9.6,9.74],[9.79,9.95],[11.52,11.92],[12.93,13.04],[13.11,13.26],[13.42,13.56],[13.65,13.77],[14.03,14.52]];
var T5_occE40 = [[13.68,13.91],[14.52,14.64],[14.82,14.94]];
var T6_occE760 = [[0,.3],[.42,.89],[1.0,1.14],[1.21,1.36],[1.41,1.55],[1.64,1.94],[2.02,2.17],[2.25,2.64],[2.72,3.25],[4.59,4.74],[5.82,5.96],[6.1,6.64],[6.81,6.96],[7.02,7.16],[7.22,7.43],[7.54,7.8],[7.9,8.04],[8.93,9.26],[9.32,9.44],[9.62,10.02],[10.2,10.63],[10.82,10.96],[11.1,11.21],[11.28,11.45],[11.6,11.72],[12.34,12.45],[12.53,12.65],[13.53,13.72],[13.82,14.11],[14.23,15.02],[15.51,16]];
var T6_occE40 = [];
var T7_occE760 = [[0,1.17],[1.35,4.89],[5.0,6.24],[6.35,8.76],[8.87,9.85],[10.53,10.68],[10.98,11.13],[11.28,11.43],[11.54,11.69],[11.8,12.41],[12.52,13.01],[13.08,16]];
var T7_occE40 = [];
var T8_occE760 = [[0,.59],[.71,1.0],[1.29,1.49],[1.71,1.92],[2.0,2.21],[2.29,2.59],[2.82,3.41],[3.49,8.12],[8.51,8.67],[8.82,9.02],[9.61,9.73],[9.82,10.0],[10.12,10.74],[10.91,11.12],[11.59,11.73]];
var T8_occE40 = [[12.04,12.32]];
var T9_occE760 = [[0,1.56],[1.68,4.15],[4.37,7.48],[7.6,9.23],[9.29,9.46],[9.75,9.87],[9.99,10.16],[10.28,10.46],[10.51,10.69],[10.8,10.98],[11.1,11.22],[11.33,11.5],[11.62,12.31],[12.48,13.41],[13.58,14.39],[14.56,14.73],[14.85,15.33],[15.45,16]];
var T9_occE40 = [];
var T10_occE760 = [[0,.74],[.92,1.85],[2.0,2.33],[2.48,2.88],[3.1,3.36],[3.58,3.88],[4.07,4.43],[4.62,4.88],[5.17,5.84],[7.43,7.58],[10.57,11.01],[11.16,11.75],[11.9,12.9],[13.01,13.34],[13.45,13.78],[13.93,14.71],[14.86,15.19],[15.34,15.52],[15.67,16]];
var T10_occE40 = [[8.72,8.8]];
var T11_occE760 = [[0,7.37],[7.4,7.59],[10.26,10.37],[10.48,10.63],[10.7,10.81],[12.56,13.15],[14.22,14.48],[14.59,14.96],[15.19,15.41],[15.52,15.78],[15.85,16]];
var T11_occE40 = [];
var T12_occE760 = [[0,1.83],[2.12,2.92],[3.03,3.76],[3.99,4.1],[4.13,4.24],[4.29,4.43],[4.48,4.59],[4.69,4.83],[5.0,5.21],[5.31,6.61],[6.67,6.79],[6.88,7.51],[7.9,8.77],[8.91,9.33],[9.59,10.38],[10.5,12.48],[12.59,14.37],[14.51,16]];
var T12_occE40 = [];

// table built from the arrays above
var panels = [
  [T1_E760, T1_E40, T1_occE760, T1_occE40],
  [T2_E760, T2_E40, T2_occE760, T2_occE40],
  [T3_E760, T3_E40, T3_occE760, T3_occE40],
  [T4_E760, T4_E40, T4_occE760, T4_occE40],
  [T5_E760, T5_E40, T5_occE760, T5_occE40],
  [T6_E760, T6_E40, T6_occE760, T6_occE40],
  [T7_E760, T7_E40, T7_occE760, T7_occE40],
  [T8_E760, T8_E40, T8_occE760, T8_occE40],
  [T9_E760, T9_E40, T9_occE760, T9_occE40],
  [T10_E760, T10_E40, T10_occE760, T10_occE40],
  [T11_E760, T11_E40, T11_occE760, T11_occE40],
  [T12_E760, T12_E40, T12_occE760, T12_occE40]
].map(function (p, i) {
  return { name: trajNames[i], e760: p[0], e40: p[1], occ760: p[2], occ40: p[3] };
});

// ---- layout (drawn in a 982x1568 frame, scaled to the window) ----
var W = 982, H = 1568;
// per row: top, bottom, left box x0/x1, right box x0/x1, right box top
var rowBox = [
  [31.5, 125, 71, 493, 519, 940, 34],
  [152.5, 244.5, 72, 493, 519, 942, 152.5],
  [272.5, 363.5, 72, 495, 519, 943, 272.5],
  [395, 487.5, 72, 495, 519, 945, 395],
  [515, 608, 72, 495, 520, 945, 515],
  [637, 729, 72, 495, 520, 946, 637],
  [761, 854, 74, 498, 523, 948, 761],
  [885, 977.5, 74, 498, 527, 949, 885],
  [1052.5, 1147, 68, 491, 519, 952, 1052.5],
  [1182, 1276, 68, 491, 520, 953, 1182],
  [1308, 1401, 68, 491, 522, 953, 1308],
  [1434, 1527, 67, 492, 527, 955, 1434]
];
var bottomRows = [7, 11];
var distLabelPos = [[21, 130], [20, 360], [20, 610], [21, 852], [17, 1190], [17, 1405]];
var occLabelPos = [[955, 132], [957, 383], [961, 618], [963, 877], [966, 1162], [967, 1418]];

var serif = '"Liberation Serif", "Times New Roman", serif';
var sans = '"Liberation Sans", Arial, sans-serif';

var svg = d3.select('#chart')
  .attr('width', 1073)
  .attr('height', 1713)
  .attr('viewBox', '0 0 ' + W + ' ' + H);

svg.append('rect').attr('width', W).attr('height', H).attr('fill', '#fff');

// legend
var legendColors = ['#1f5cc4', '#8dcf6e'];
var legendX = [170, 330];
seriesNames.forEach(function (s, i) {
  svg.append('circle').attr('cx', legendX[i]).attr('cy', 16.5).attr('r', 4.6).attr('fill', legendColors[i]);
  svg.append('text').attr('x', legendX[i] + 15).attr('y', 23)
    .style('font-family', sans).style('font-weight', 'bold').style('font-size', '18px')
    .text(s);
});

function styleAxis(g) {
  g.select('.domain').remove();
  g.selectAll('.tick line').attr('stroke', '#111').attr('stroke-width', 1.5);
  g.selectAll('.tick text').style('font-family', serif).style('font-size', '15px').attr('fill', '#111');
}

function stepPoints(intervals) {
  var pts = [[0, 0]];
  intervals.forEach(function (iv) { pts.push([iv[0], 1], [iv[1], 0]); });
  pts.push([16, 0]);
  return pts;
}

panels.forEach(function (p, i) {
  var b = rowBox[i];
  var top = b[0], bottom = b[1], rTop = b[6];
  var isBottom = bottomRows.indexOf(i) >= 0;

  // ---------- distance panel ----------
  var xL = d3.scaleLinear().domain([0, 16]).range([b[2], b[3]]);
  var yL = d3.scaleLinear().domain([0.25, 0.75]).range([bottom, top]);
  var gL = svg.append('g');
  var clipId = 'clip' + i;
  gL.append('clipPath').attr('id', clipId).append('rect')
    .attr('x', b[2]).attr('y', top - 1).attr('width', b[3] - b[2]).attr('height', bottom - top + 2);

  var dots = gL.append('g').attr('clip-path', 'url(#' + clipId + ')');
  dots.selectAll('circle.e760').data(p.e760).join('circle')
    .attr('class', 'e760')
    .attr('cx', function (d) { return xL(d[0]); })
    .attr('cy', function (d) { return yL(d[1]); })
    .attr('r', 1.25).attr('fill', '#1d1d7c');
  dots.selectAll('circle.e40').data(p.e40).join('circle')
    .attr('class', 'e40')
    .attr('cx', function (d) { return xL(d[0]); })
    .attr('cy', function (d) { return yL(d[1]); })
    .attr('r', 1.9).attr('fill', '#36cf36');

  gL.append('line')
    .attr('x1', xL(0)).attr('x2', xL(16))
    .attr('y1', yL(cutoff)).attr('y2', yL(cutoff))
    .attr('stroke', '#111').attr('stroke-width', 1.7).attr('stroke-dasharray', '8,5');

  gL.append('g').attr('transform', 'translate(' + b[2] + ',0)')
    .call(d3.axisLeft(yL).tickValues(distTicks).tickSize(0).tickPadding(5)
      .tickFormat(function (d) { return d === 0.5 ? '0.5' : d3.format('.2f')(d); }))
    .call(styleAxis);

  gL.append('g').attr('transform', 'translate(0,' + bottom + ')')
    .call(d3.axisBottom(xL).tickValues(isBottom ? timeTicks : [4, 8, 12]).tickSizeInner(-8).tickSizeOuter(0).tickPadding(5)
      .tickFormat(isBottom ? d3.format('d') : function () { return ''; }))
    .call(styleAxis);

  gL.append('rect').attr('x', b[2]).attr('y', top).attr('width', b[3] - b[2]).attr('height', bottom - top)
    .attr('fill', 'none').attr('stroke', '#1a1a1a').attr('stroke-width', 1.7);

  gL.append('text').attr('x', b[2] + 11).attr('y', top + 26)
    .style('font-family', sans).style('font-weight', 'bold').style('font-size', '19px')
    .text(p.name);

  // ---------- occupancy panel ----------
  var xR = d3.scaleLinear().domain([0, 16]).range([b[4], b[5]]);
  var yR = d3.scaleLinear().domain([-0.1, 1.1]).range([bottom, rTop]);
  var gR = svg.append('g');

  var area = d3.area().curve(d3.curveStepAfter)
    .x(function (d) { return xR(d[0]); }).y0(yR(0)).y1(function (d) { return yR(d[1]); });
  var line = d3.line().curve(d3.curveStepAfter)
    .x(function (d) { return xR(d[0]); }).y(function (d) { return yR(d[1]); });

  var blue = stepPoints(p.occ760);
  var green = stepPoints(p.occ40);
  gR.append('path').attr('d', area(blue)).attr('fill', '#bfbecd');
  gR.append('path').attr('d', line(blue)).attr('fill', 'none').attr('stroke', '#3b3bc6').attr('stroke-width', 1.5);
  gR.append('path').attr('d', area(green)).attr('fill', '#a6e19f').attr('fill-opacity', 0.75);
  gR.append('path').attr('d', line(green)).attr('fill', 'none').attr('stroke', '#3fd83f').attr('stroke-width', 1.6);

  gR.append('g').attr('transform', 'translate(' + b[4] + ',0)')
    .call(d3.axisLeft(yR).tickValues(occTicks).tickSize(-7).tickPadding(6).tickFormat(d3.format('d')))
    .call(styleAxis);

  gR.append('g').attr('transform', 'translate(0,' + bottom + ')')
    .call(d3.axisBottom(xR).tickValues(isBottom ? timeTicks : [4, 8, 12]).tickSizeInner(-7).tickSizeOuter(0).tickPadding(5)
      .tickFormat(isBottom ? d3.format('d') : function () { return ''; }))
    .call(styleAxis);

  gR.append('rect').attr('x', b[4]).attr('y', rTop).attr('width', b[5] - b[4]).attr('height', bottom - rTop)
    .attr('fill', 'none').attr('stroke', '#1a1a1a').attr('stroke-width', 1.7);

  if (isBottom) {
    [xL, xR].forEach(function (sx) {
      svg.append('text')
        .attr('x', sx(8)).attr('y', bottom + 34)
        .attr('text-anchor', 'middle')
        .style('font-family', serif).style('font-size', '15px')
        .text('Time (ns)');
    });
  }
});

distLabelPos.forEach(function (pos) {
  svg.append('text')
    .attr('transform', 'translate(' + pos[0] + ',' + pos[1] + ') rotate(-90)')
    .attr('text-anchor', 'middle').attr('dy', '0.35em')
    .style('font-family', serif).style('font-size', '19px')
    .text('Distance (nm)');
});
occLabelPos.forEach(function (pos) {
  svg.append('text')
    .attr('transform', 'translate(' + pos[0] + ',' + pos[1] + ') rotate(-90)')
    .attr('text-anchor', 'middle').attr('dy', '0.35em')
    .style('font-family', serif).style('font-size', '19px')
    .text('Occupancy');
});
</script>
</body>
</html>
